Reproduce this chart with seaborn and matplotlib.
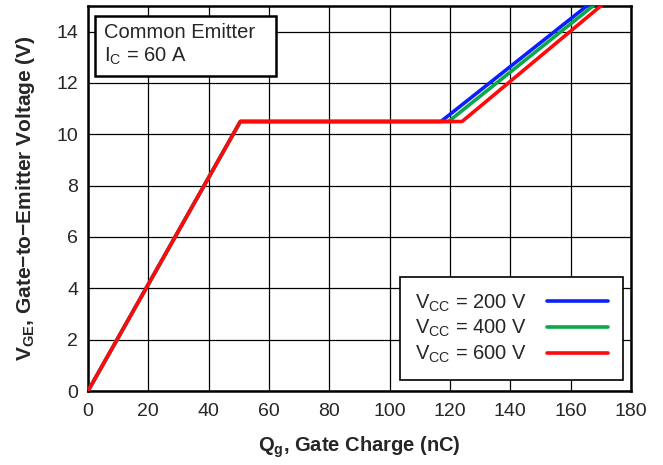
import matplotlib
matplotlib.use("Agg")
import matplotlib.pyplot as plt
import seaborn as sns
import pandas as pd

# gate charge curves (Qg in nC, VGE in V)
qg_200 = [0, 50.5, 117, 167.5]
vge_200 = [0, 10.5, 10.5, 15.2]
qg_400 = [0, 50.5, 119.5, 169.5]
vge_400 = [0, 10.5, 10.5, 15.2]
qg_600 = [0, 50.5, 124, 172]
vge_600 = [0, 10.5, 10.5, 15.2]
labels = ["V$_{\\mathregular{CC}}$ = 200 V", "V$_{\\mathregular{CC}}$ = 400 V",
          "V$_{\\mathregular{CC}}$ = 600 V"]
colors = ["#0a1fff", "#0aa84a", "#ff0a0a"]

frames = []
for q, v, lab in zip([qg_200, qg_400, qg_600], [vge_200, vge_400, vge_600], labels):
    frames.append(pd.DataFrame({"qg": q, "vge": v, "series": lab}))
df = pd.concat(frames, ignore_index=True)

sns.set_style("white")
plt.rcParams['font.family'] = ['Liberation Sans', 'DejaVu Sans']
plt.rcParams['mathtext.fontset'] = 'custom'
plt.rcParams['mathtext.rm'] = 'Liberation Sans'
plt.rcParams['mathtext.bf'] = 'Liberation Sans:bold'

fig = plt.figure(figsize=(6.63, 4.65), dpi=100)
ax = fig.add_axes([88 / 663, 1 - 391 / 465, 543 / 663, 385 / 465])

sns.lineplot(data=df, x="qg", y="vge", hue="series", palette=colors,
             sort=False, estimator=None, linewidth=2.6, ax=ax, zorder=3)

ax.set_xlim(0, 180)
ax.set_ylim(0, 15)
ax.set_xticks(range(0, 181, 20))
ax.set_yticks(range(0, 15, 2))
ax.grid(True, color="black", linewidth=0.9)
ax.tick_params(labelsize=14, length=0)
ax.tick_params(axis="x", pad=9)
ax.tick_params(axis="y", pad=7)
for s in ax.spines.values():
    s.set_color("black")
    s.set_linewidth(1.8)

ax.set_xlabel("Q$_{\\mathbf{g}}$, Gate Charge (nC)", fontsize=14.5, fontweight="bold", labelpad=10)
ax.set_ylabel("V$_{\\mathbf{GE}}$, Gate\u2212to\u2212Emitter Voltage (V)", fontsize=15,
              fontweight="bold", labelpad=14)

leg = ax.legend(loc="lower right", bbox_to_anchor=(0.985, 0.028), markerfirst=False,
                fontsize=14.5, frameon=True, fancybox=False, edgecolor="black",
                handlelength=3.0, labelspacing=0.22, borderpad=0.75, handletextpad=1.0,
                borderaxespad=0.0)
leg.get_frame().set_linewidth(1.2)
leg.get_frame().set_alpha(1)

ax.text(0.03, 0.955, "Common Emitter  \nI$_{\\mathregular{C}}$ = 60 A", transform=ax.transAxes,
        fontsize=14.5, va="top", ha="left", linespacing=1.2, zorder=5,
        bbox=dict(boxstyle="square,pad=0.45", facecolor="white", edgecolor="black", linewidth=1.8))

fig.savefig("out.png", dpi=100)
